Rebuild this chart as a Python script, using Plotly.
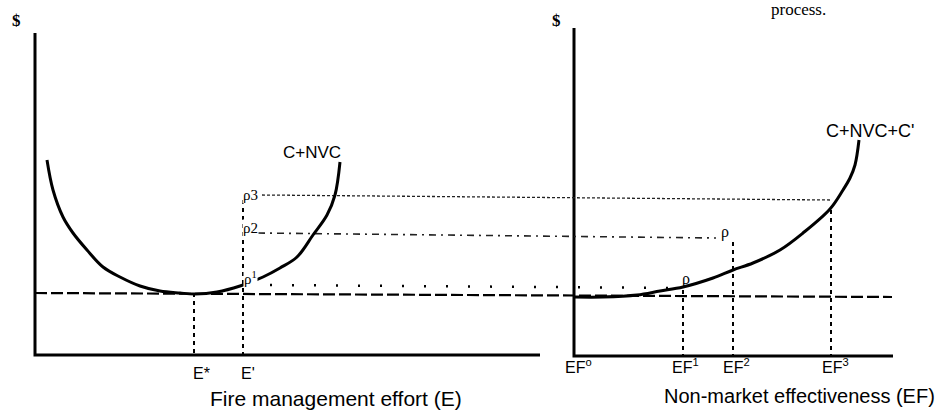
import plotly.graph_objects as go

# ---------------- data (diagram units: x to the right, y downward like the page) -------------
# Left panel: C+NVC cost curve against fire management effort
cnvc_x = [47, 53, 63, 73, 87, 103, 120, 140, 160, 180, 195, 217, 240, 263, 280, 297, 313, 327, 335, 340]
cnvc_y = [160, 190, 217, 233, 250, 267, 277, 286, 291, 293, 294, 292, 286, 277, 268, 257, 235, 215, 195, 162]

# Right panel: C+NVC+C' cost curve against non-market effectiveness
cnvcc_x = [575, 603, 637, 660, 683, 713, 733, 753, 780, 803, 830, 843, 850, 855, 859]
cnvcc_y = [297, 297, 295, 291, 287, 278, 270, 263, 250, 233, 209, 190, 178, 165, 140]

# minimum-cost level (long dashed line)
min_level_x = [35, 892]
min_level_y = [293, 297]

# rho price levels carried from left panel to right panel
rho3_x, rho3_y = [262, 831], [195, 200]
rho2_x, rho2_y = [258, 716], [233, 238]
rho1_x, rho1_y = [270, 678], [285, 288]

# vertical drop lines (x, y_top, y_bottom)
drops_left = [(194, 293, 354), (243, 200, 354)]
drops_right = [(683, 290, 356), (733, 242, 356), (831, 210, 356)]

# axes
left_axes = dict(x=[35, 35, 540], y=[33, 355, 355])
right_axes = dict(x=[574, 574, 893], y=[28, 356, 356])

left_ticks = ["E*", "E'"]
left_tick_x = [201, 248]
right_ticks = ["EF<sup>o</sup>", "EF<sup>1</sup>", "EF<sup>2</sup>", "EF<sup>3</sup>"]
right_tick_x = [578, 685, 736, 835]

# ---------------- figure ---------------------------------------------------------------------
fig = go.Figure()

def line(x, y, width=2, dash="solid", shape="linear", color="black"):
    fig.add_trace(go.Scatter(x=x, y=y, mode="lines", hoverinfo="skip", showlegend=False,
                             line=dict(color=color, width=width, dash=dash, shape=shape)))

# axes
line(left_axes["x"], left_axes["y"], width=3)
line(right_axes["x"], right_axes["y"], width=3)

# minimum level dashed
line(min_level_x, min_level_y, width=2.2, dash="12px,4px")

# rho levels
line(rho3_x, rho3_y, width=1.3, dash="3px,2px", color="#222")
line(rho2_x, rho2_y, width=1.6, dash="7px,5px,2px,5px", color="#222")
line(rho1_x, rho1_y, width=2.5, dash="2px,20px")

# drop lines
for (xv, yt, yb) in drops_left + drops_right:
    line([xv, xv], [yt, yb], width=2, dash="4px,4px")

# cost curves
line(cnvc_x, cnvc_y, width=3, shape="spline")
line(cnvcc_x, cnvcc_y, width=3, shape="spline")

ann = []
sans = "Liberation Sans, Arial, sans-serif"
serif = "Liberation Serif, Times New Roman, serif"

def text(x, y, t, size=16, family=sans, bg=None, xanchor="center"):
    d = dict(x=x, y=y, text=t, showarrow=False, xref="x", yref="y",
             font=dict(family=family, size=size, color="black"), xanchor=xanchor, yanchor="middle")
    if bg:
        d["bgcolor"] = bg
        d["borderpad"] = 0
    ann.append(d)

text(16, 20, "<b>$</b>", size=17, family=serif)
text(556, 20, "<b>$</b>", size=17, family=serif)
text(798, 9, "process.", size=17, family=serif)

text(312, 152, "C+NVC", size=17)
text(870, 131, "C+NVC+C'", size=18)

text(250, 195, "ρ3", size=15, family=serif, bg="white")
text(250, 228, "ρ2", size=15, family=serif, bg="white")
text(250, 278, "ρ<sup>1</sup>", size=15, family=serif, bg="white")
text(725, 232, "ρ", size=16, family=serif)
text(686, 279, "ρ", size=16, family=serif)

for t, xv in zip(left_ticks, left_tick_x):
    text(xv, 373, t, size=16)
for t, xv in zip(right_ticks, right_tick_x):
    text(xv, 366, t, size=16)

text(336, 398, "Fire management effort (E)", size=21)
text(799, 396, "Non-market effectiveness (EF)", size=20)

fig.update_layout(
    width=941, height=415,
    margin=dict(l=0, r=0, t=0, b=0),
    paper_bgcolor="white", plot_bgcolor="white",
    xaxis=dict(range=[0, 941], visible=False, fixedrange=True),
    yaxis=dict(range=[415, 0], visible=False, fixedrange=True),
    annotations=ann,
    showlegend=False,
)

fig.write_html(
    "out.html",
    config={"displayModeBar": False},
    post_script="document.body.style.margin='0';document.body.style.overflow='hidden';",
)
